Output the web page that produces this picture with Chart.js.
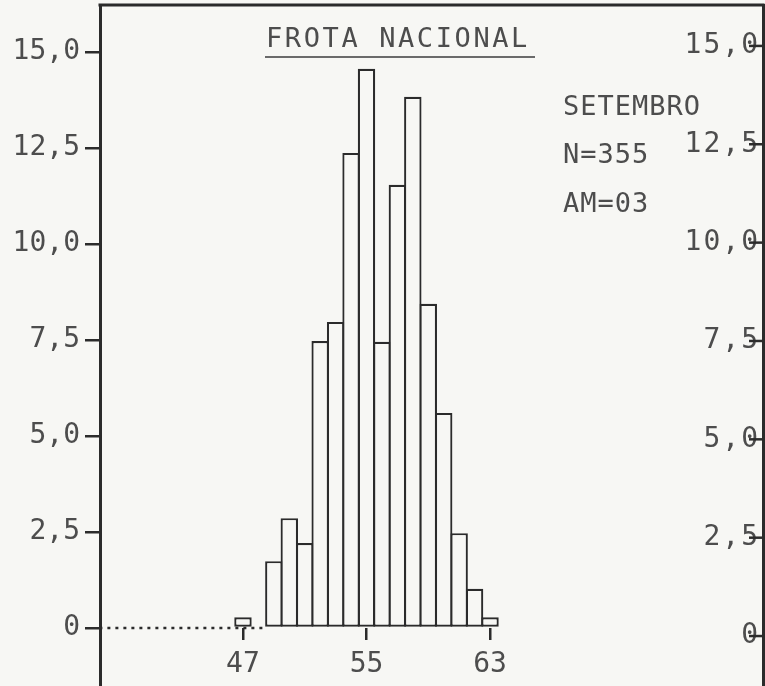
<!DOCTYPE html>
<html>
<head>
<meta charset="utf-8">
<script src="https://cdn.jsdelivr.net/npm/chart.js@4.4.1/dist/chart.umd.min.js"></script>
<style>
  html, body { margin: 0; padding: 0; background: #f7f7f4; }
  #wrap { width: 765px; height: 686px; }
</style>
</head>
<body>
<div id="wrap"><canvas id="myChart" width="765" height="686"></canvas></div>
<script>
// classes (comprimento) and percent of the fleet
var categories = [47, 49, 50, 51, 52, 53, 54, 55, 56, 57, 58, 59, 60, 61, 62, 63];
var percentValues = [0.28, 1.74, 2.86, 2.21, 7.47, 7.97, 12.37, 14.56, 7.45, 11.54, 13.83, 8.44, 5.6, 2.47, 1.02, 0.28];
var yTicks = [0, 2.5, 5, 7.5, 10, 12.5, 15];
var xTicks = [47, 55, 63];
var titleText = "FROTA NACIONAL";
var notes = ["SETEMBRO", "N=355", "AM=03"];

var ink = "#2b2b2b";
var textInk = "#4d4d4d";
var monoFont = "'DejaVu Sans Mono', 'Liberation Mono', monospace";

function fmt(v) {
  if (v === 0) return "0";
  return v.toFixed(1).replace(".", ",");
}

var barData = [];
for (var i = 0; i < categories.length; i++) {
  barData.push({ x: categories[i], y: percentValues[i] });
}

function noPad(scale) {
  scale.paddingTop = 0;
  scale.paddingBottom = 0;
  scale.paddingLeft = 0;
  scale.paddingRight = 0;
}

// frame top line, right axis ticks + labels, title, notes
var decor = {
  id: "decor",
  afterDraw: function (chart) {
    var ctx = chart.ctx;
    var a = chart.chartArea;
    ctx.save();
    ctx.strokeStyle = ink;
    ctx.lineWidth = 3;
    ctx.beginPath();
    ctx.moveTo(a.left - 1.5, a.top);
    ctx.lineTo(a.right + 1.5, a.top);
    ctx.stroke();

    var y2 = chart.scales.y2;
    ctx.fillStyle = textInk;
    ctx.font = "28px " + monoFont;
    ctx.textAlign = "right";
    ctx.textBaseline = "middle";
    try { ctx.letterSpacing = "2px"; } catch (e) {}
    y2.ticks.forEach(function (t) {
      var py = y2.getPixelForValue(t.value);
      ctx.fillText(fmt(t.value), y2.left - 3, py);
    });
    try { ctx.letterSpacing = "0px"; } catch (e) {}
    // right axis ticks point inward
    ctx.lineWidth = 2.5;
    y2.ticks.forEach(function (t) {
      var py = y2.getPixelForValue(t.value);
      ctx.beginPath();
      ctx.moveTo(y2.left - 14, py);
      ctx.lineTo(y2.left, py);
      ctx.stroke();
    });

    ctx.font = "27px " + monoFont;
    ctx.textBaseline = "alphabetic";
    ctx.textAlign = "left";
    try { ctx.letterSpacing = "2.6px"; } catch (e) {}
    ctx.fillText(titleText, 266, 47);
    try { ctx.letterSpacing = "1px"; } catch (e) {}
    ctx.fillText(notes[0], 563, 115);
    ctx.fillText(notes[1], 563, 163);
    ctx.fillText(notes[2], 563, 212);
    try { ctx.letterSpacing = "0px"; } catch (e) {}

    ctx.strokeStyle = "#6a6a6a";
    ctx.lineWidth = 2;
    ctx.beginPath();
    ctx.moveTo(265, 57);
    ctx.lineTo(535, 57);
    ctx.stroke();
    ctx.restore();
  }
};

var ctx = document.getElementById("myChart");
var myChart = new Chart(ctx, {
  type: "bar",
  data: {
    datasets: [{
      type: "bar",
      data: barData,
      backgroundColor: "#f7f7f4",
      borderColor: ink,
      borderWidth: 2.2,
      borderSkipped: false,
      barPercentage: 1.13,
      categoryPercentage: 1,
      inflateAmount: 0,
      order: 1,
      xAxisID: "x",
      yAxisID: "y"
    }, {
      // dotted base line to the left of the bars
      type: "line",
      data: [{ x: 37.7, y: 0 }, { x: 48.5, y: 0 }],
      borderColor: ink,
      borderWidth: 2.6,
      borderDash: [3, 5],
      pointRadius: 0,
      order: 2,
      xAxisID: "x",
      yAxisID: "y"
    }]
  },
  options: {
    responsive: false,
    animation: false,
    layout: { padding: { top: 5, right: 0, bottom: 0, left: 0 } },
    plugins: {
      legend: { display: false },
      tooltip: { enabled: false },
      title: { display: false }
    },
    scales: {
      x: {
        type: "linear",
        position: { y: 0 },
        offset: false,
        min: 37.74,
        max: 80.68,
        afterBuildTicks: function (scale) {
          scale.ticks = xTicks.map(function (v) { return { value: v }; });
        },
        afterFit: noPad,
        border: { display: false },
        grid: { offset: false, drawOnChartArea: false, drawTicks: true, tickLength: 12, color: ink, lineWidth: 2.5 },
        ticks: {
          padding: 8,
          color: textInk,
          font: { family: monoFont, size: 28 },
          maxRotation: 0,
          callback: function (v) { return String(v); }
        }
      },
      y: {
        position: "left",
        min: -1.51,
        max: 16.22,
        afterBuildTicks: function (scale) {
          scale.ticks = yTicks.map(function (v) { return { value: v }; });
        },
        afterFit: function (scale) { scale.width = 100; noPad(scale); },
        border: { display: true, color: ink, width: 3 },
        grid: { drawOnChartArea: false, drawTicks: true, tickLength: 15, color: ink, lineWidth: 2.5 },
        ticks: {
          padding: 5,
          color: textInk,
          font: { family: monoFont, size: 28 },
          callback: function (v) { return fmt(v); }
        }
      },
      y2: {
        position: "right",
        min: -1.27,
        max: 16.04,
        afterBuildTicks: function (scale) {
          scale.ticks = yTicks.map(function (v) { return { value: v }; });
        },
        afterFit: function (scale) { scale.width = 2; noPad(scale); },
        border: { display: true, color: ink, width: 3 },
        grid: { display: false, drawOnChartArea: false, drawTicks: false },
        ticks: { display: false }
      }
    }
  },
  plugins: [decor]
});
</script>
</body>
</html>
